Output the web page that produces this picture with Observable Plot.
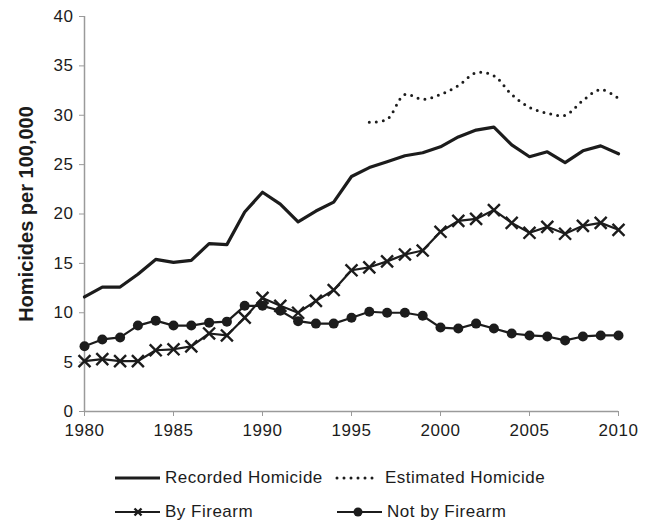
<!DOCTYPE html>
<html>
<head>
<meta charset="utf-8">
<script src="https://cdn.jsdelivr.net/npm/d3@7"></script>
<script src="https://cdn.jsdelivr.net/npm/@observablehq/plot@0.6"></script>
<style>
  body { margin: 0; background: #fff; font-family: "Liberation Sans", Arial, sans-serif; }
  #wrap { position: relative; width: 655px; height: 521px; }
  #chart svg [aria-label="y-axis label"] text { font-weight: bold; font-size: 20px; }
  #chart svg [aria-label="x-axis tick label"] text,
  #chart svg [aria-label="y-axis tick label"] text { letter-spacing: 0.6px; }
  .leg { position: absolute; display: flex; align-items: center; font-size: 17px; letter-spacing: 0.5px; color: #1c1c1c; }
  .leg svg { margin-right: 5px; }
</style>
</head>
<body>
<div id="wrap">
  <div id="chart"></div>
  <div id="legend"></div>
</div>
<script>
const years = d3.range(1980, 2011);
const recorded = [11.6, 12.6, 12.6, 13.9, 15.4, 15.1, 15.3, 17.0, 16.9, 20.2, 22.2, 21.0, 19.2, 20.3, 21.2, 23.8,
                  24.7, 25.3, 25.9, 26.2, 26.8, 27.8, 28.5, 28.8, 27.0, 25.8, 26.3, 25.2, 26.4, 26.9, 26.1];
const estimatedYears = d3.range(1996, 2011);
const estimated = [29.3, 29.6, 32.1, 31.6, 32.1, 33.0, 34.3, 34.0, 32.1, 30.8, 30.2, 30.0, 31.5, 32.6, 31.7];
const byFirearm = [5.1, 5.3, 5.1, 5.1, 6.2, 6.3, 6.6, 7.9, 7.7, 9.5, 11.5, 10.7, 10.0, 11.2, 12.3, 14.3,
                   14.6, 15.2, 15.9, 16.3, 18.2, 19.3, 19.5, 20.4, 19.1, 18.1, 18.7, 18.0, 18.8, 19.1, 18.4];
const notFirearm = [6.6, 7.3, 7.5, 8.7, 9.2, 8.7, 8.7, 9.0, 9.1, 10.7, 10.7, 10.2, 9.15, 8.9, 8.9, 9.5,
                    10.1, 10.0, 10.0, 9.7, 8.5, 8.4, 8.9, 8.4, 7.9, 7.7, 7.6, 7.2, 7.6, 7.7, 7.7];
const xTicks = [1980, 1985, 1990, 1995, 2000, 2005, 2010];
const yTicks = [0, 5, 10, 15, 20, 25, 30, 35, 40];
const legendItems = ["Recorded Homicide", "Estimated Homicide", "By Firearm", "Not by Firearm"];

const rec = years.map((y, i) => ({year: y, v: recorded[i]}));
const est = estimatedYears.map((y, i) => ({year: y, v: estimated[i]}));
const fa = years.map((y, i) => ({year: y, v: byFirearm[i]}));
const nf = years.map((y, i) => ({year: y, v: notFirearm[i]}));

const ink = "#1c1c1c";
const axisGray = "#9a9a9a";

const plot = Plot.plot({
  width: 655,
  height: 450,
  marginLeft: 84,
  marginRight: 37,
  marginTop: 16,
  marginBottom: 39,
  style: {fontFamily: "'Liberation Sans', Arial, sans-serif", fontSize: "17px", color: ink, background: "#fff"},
  x: {domain: [1980, 2010]},
  y: {domain: [0, 40]},
  marks: [
    Plot.axisY({ticks: yTicks, tickSize: 5, tickPadding: 6, stroke: axisGray, fill: ink,
                label: "Homicides per 100,000", labelAnchor: "center", labelArrow: "none", labelOffset: 66}),
    Plot.axisX({ticks: xTicks, tickSize: 5, tickPadding: 7, tickFormat: d => String(d), stroke: axisGray, fill: ink, label: null}),
    Plot.ruleX([1980], {stroke: axisGray, strokeWidth: 1.5}),
    Plot.ruleY([0], {stroke: axisGray, strokeWidth: 1.5}),
    Plot.line(rec, {x: "year", y: "v", stroke: ink, strokeWidth: 3.2}),
    Plot.line(est, {x: "year", y: "v", stroke: ink, strokeWidth: 3, strokeDasharray: "0 7", strokeLinecap: "round", curve: "catmull-rom"}),
    Plot.line(fa, {x: "year", y: "v", stroke: ink, strokeWidth: 2.2}),
    Plot.dot(fa, {x: "year", y: "v", symbol: "times", r: 5.5, stroke: ink, strokeWidth: 2.4}),
    Plot.line(nf, {x: "year", y: "v", stroke: ink, strokeWidth: 2.2}),
    Plot.dot(nf, {x: "year", y: "v", symbol: "circle", r: 5, fill: ink, stroke: "none"})
  ]
});
document.getElementById("chart").appendChild(plot);

// legend
const swatches = [
  `<svg width="45" height="12"><line x1="0" y1="6" x2="45" y2="6" stroke="${ink}" stroke-width="3.2"/></svg>`,
  `<svg width="45" height="12"><line x1="2" y1="6" x2="44" y2="6" stroke="${ink}" stroke-width="3" stroke-dasharray="0 7" stroke-linecap="round"/></svg>`,
  `<svg width="45" height="14"><line x1="0" y1="7" x2="45" y2="7" stroke="${ink}" stroke-width="2.2"/><path d="M19.5,3.5L26.5,10.5M26.5,3.5L19.5,10.5" stroke="${ink}" stroke-width="2.4"/></svg>`,
  `<svg width="45" height="14"><line x1="0" y1="7" x2="45" y2="7" stroke="${ink}" stroke-width="2.2"/><circle cx="21" cy="7" r="4.5" fill="${ink}"/></svg>`
];
const pos = [[115, 468], [335, 468], [115, 502], [337, 502]];
const legend = document.getElementById("legend");
legendItems.forEach((t, i) => {
  const d = document.createElement("div");
  d.className = "leg";
  d.style.left = pos[i][0] + "px";
  d.style.top = pos[i][1] + "px";
  d.innerHTML = swatches[i] + `<span>${t}</span>`;
  legend.appendChild(d);
});
</script>
</body>
</html>
